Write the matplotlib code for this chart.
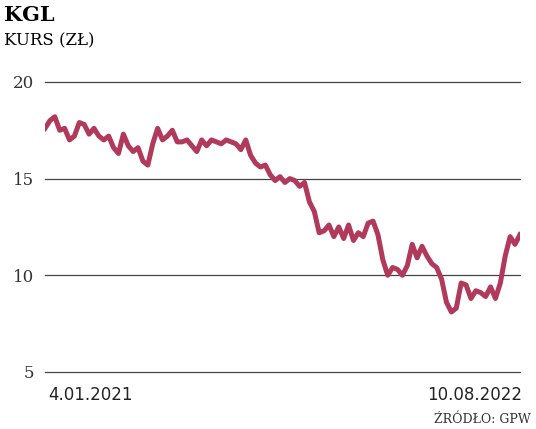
import matplotlib
matplotlib.use("Agg")
import matplotlib.pyplot as plt
import numpy as np

prices = [17.6,18.0,18.2,17.5,17.6,17.0,17.2,17.9,17.8,17.3,17.6,17.2,17.0,17.2,16.6,16.3,17.3,16.7,16.4,16.6,
          15.9,15.7,16.8,17.6,17.0,17.2,17.5,16.9,16.9,17.0,16.7,16.4,17.0,16.7,17.0,16.9,16.8,17.0,16.9,16.8,
          16.5,17.0,16.2,15.8,15.6,15.7,15.2,14.9,15.1,14.8,15.0,14.9,14.6,14.8,13.8,13.3,12.2,12.3,12.6,12.0,
          12.5,11.9,12.6,11.8,12.2,12.0,12.7,12.8,12.1,10.8,10.0,10.4,10.3,10.0,10.5,11.6,10.9,11.5,11.0,10.6,
          10.4,9.8,8.6,8.1,8.3,9.6,9.5,8.8,9.2,9.1,8.9,9.4,8.8,9.6,11.0,12.0,11.6,12.1]
yticks = [5, 10, 15, 20]
x_labels = ["4.01.2021", "10.08.2022"]

fig = plt.figure(figsize=(5.36, 4.29), dpi=100)
ax = fig.add_axes([0.084, 0.133, 0.886, 0.676])
x = np.arange(len(prices))
ax.plot(x, prices, color="#b13a5c", lw=3.6, solid_joinstyle="round")
ax.set_xlim(0, len(prices) - 1)
ax.set_ylim(5, 20)
for v in yticks:
    ax.axhline(v, color="#444444", lw=0.9, zorder=0, clip_on=False)
ax.set_yticks(yticks)
ax.set_yticklabels([str(v) for v in yticks], family="DejaVu Serif", fontsize=12, color="#333333")
ax.tick_params(axis="y", length=0, pad=8)
ax.set_xticks([])
for s in ax.spines.values():
    s.set_visible(False)

fig.text(0.09, 0.08, x_labels[0], fontsize=12, family="DejaVu Sans", color="#222222", va="center")
fig.text(0.975, 0.08, x_labels[1], fontsize=12, family="DejaVu Sans", color="#222222", va="center", ha="right")
fig.text(0.008, 0.965, "KGL", fontsize=15, fontweight="bold", family="DejaVu Serif", va="center")
fig.text(0.008, 0.905, "KURS (ZŁ)", fontsize=12, family="DejaVu Serif", va="center")
fig.text(0.99, 0.022, "ŹRÓDŁO: GPW", fontsize=9, family="DejaVu Serif", va="center", ha="right", color="#333333")
fig.savefig("out.png", dpi=100)
